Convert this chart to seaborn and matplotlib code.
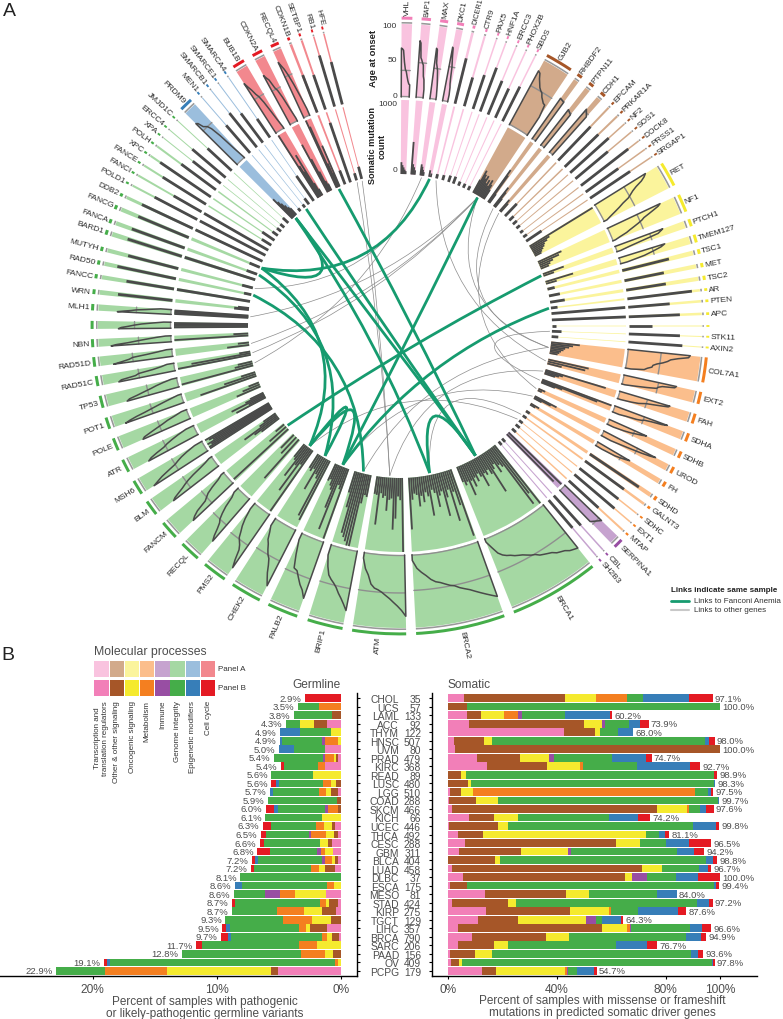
import numpy as np
import pandas as pd
import matplotlib
matplotlib.use("Agg")
import matplotlib.pyplot as plt
from matplotlib.patches import PathPatch, Rectangle
from matplotlib.path import Path
import seaborn as sns

# ---- panel B data ----
cancers = ['CHOL', 'UCS', 'LAML', 'ACC', 'THYM', 'HNSC', 'UVM', 'PRAD', 'KIRC', 'READ', 'LUSC', 'LGG', 'COAD', 'SKCM',
           'KICH', 'UCEC', 'THCA', 'CESC', 'GBM', 'BLCA', 'LUAD', 'DLBC', 'ESCA', 'MESO', 'STAD', 'KIRP', 'TGCT', 'LIHC',
           'BRCA', 'SARC', 'PAAD', 'OV', 'PCPG']
sample_n = [35, 57, 133, 92, 122, 507, 80, 479, 368, 89, 480, 510, 288, 466, 66, 446, 492, 288, 311, 404, 458, 37, 175,
            81, 424, 275, 129, 357, 790, 206, 156, 409, 179]
germline_total = [2.9, 3.5, 3.8, 4.3, 4.9, 4.9, 5.0, 5.4, 5.4, 5.6, 5.6, 5.7, 5.9, 6.0, 6.1, 6.3, 6.5, 6.6, 6.8, 7.2,
                  7.2, 8.1, 8.6, 8.6, 8.7, 8.7, 9.3, 9.5, 9.7, 11.7, 12.8, 19.1, 22.9]
somatic_total = [97.1, 100.0, 60.2, 73.9, 68.0, 98.0, 100.0, 74.7, 92.7, 98.9, 98.3, 97.5, 99.7, 97.6, 74.2, 99.8, 81.1,
                 96.5, 94.2, 98.8, 96.7, 100.0, 99.4, 84.0, 97.2, 87.6, 64.3, 96.6, 94.9, 76.7, 93.6, 97.8, 54.7]

germ_pink = [0, 0, 0, 1.1, 0, 0, 1.25, .2, 1.3, 0, 0, .2, 0, 0, 0, .45, .2, .7, .65, .25, .45, 0, 0, 1.2, .25, .4, 0, 1.1, .15, 0, 0, 0, 5.05]
germ_brown = [0, 0, .75, 1.1, 0, 0, 0, .2, 0, 0, .4, .6, .35, .2, 0, .25, .4, .35, 0, .25, .85, 0, 0, 0, .7, 1.1, .8, 1.4, .6, 0, .65, 0, .55]
germ_yellow = [0, 0, 0, 1.1, .8, .2, 0, .2, 0, 2.25, .4, .4, 0, 0, 1.5, .65, .6, .65, .6, .25, .45, 0, .55, 2.5, .25, 1.45, 1.55, .3, .4, 1.95, .65, .2, 8.4]
germ_orange = [0, 1.75, 0, 0, 0, 1.1, 0, .65, .55, 0, .65, .55, 0, .85, 0, .65, 1.2, 0, .35, .5, .65, 0, .55, 1.2, .5, 2.2, 2.3, .55, .35, 1.45, 1.9, .3, 5.0]
germ_purple = [0, 0, 0, 0, 0, .25, 0, .2, 0, 0, 0, 0, 0, .2, 0, 0, .2, 0, .3, .25, 0, 0, 0, 1.2, 0, 0, 0, 0, 0, 0, 0, 0, 0]
germ_green = [0, 1.75, 3.05, 1.1, 2.5, 3.2, 2.5, 3.95, 2.7, 3.35, 3.55, 3.75, 5.55, 3.85, 4.6, 3.6, 3.45, 4.5, 3.85, 5.2, 4.6, 8.1, 6.9, 2.5, 6.8, 3.6, 4.65, 5.6, 7.35, 7.8, 9.6, 18.1, 3.95]
germ_blue = [0, 0, 0, 0, 1.6, .15, 1.25, 0, 0, 0, .2, .2, 0, .3, 0, 0, 0, 0, 0, .25, 0, 0, .55, 0, 0, 0, 0, .3, .25, 0, 0, .25, 0]
germ_red = [2.9, 0, 0, 0, 0, 0, 0, 0, .3, 0, .4, 0, 0, .65, 0, .7, .4, .35, 1.0, .25, .25, 0, 0, 0, .25, 0, 0, .3, .6, .5, 0, .25, 0]

som_pink = [5.8, 0, 6.9, 7.7, 42.7, 2.2, 2.6, 10.6, 14.2, 0, 0, .5, .3, 1.2, 7.6, .4, 3.6, 6.3, 3.9, 0, 1.3, 5.4, .6, 13.6, 1.5, 13.9, 11, 3.7, 8.7, 3.4, .6, .9, 12.4]
som_brown = [37.2, 7, 5.2, 42.3, 11.4, 10.9, 97.4, 15.9, 22.2, 4.5, 7.1, 4.3, 9.9, 75.5, 9.2, 17.9, 9.3, 55.6, 22.8, 17.1, 69.9, 59.6, 6.3, 29.7, 20.5, 30.9, 14.6, 52.8, 27.4, 13.6, 9.1, 3.1, 5]
som_yellow = [11.4, 0, 8.3, 6.5, 1.7, 2.9, 0, 10.6, 12.1, 2.2, 1.1, 4.2, 8.1, 11.3, 9, 3.8, 59.9, 8.8, 17.3, 2, 7.5, 2.7, 0, 8.6, 2.9, 14.2, 24.9, 9.2, 8.2, 4.9, 6.4, 1.2, 25.6]
som_orange = [11.5, 0, 5.3, 0, 0, 0, 0, 0, .9, 0, 0, 81.7, 0, .6, 0, 0, 0, 0, 0, 0, 0, 0, 0, 0, 0, .7, 0, 1.2, 0, 0, 0, 0, .6]
som_purple = [0, 0, 1.6, 1.1, 0, 0, 0, 1.7, 0, 0, 0, 0, 0, 0, 0, 0, 0, 0, 1.1, 0, 0, 5.4, 0, 0, 0, 0, 3.8, .4, 0, 0, 0, 0, .5]
som_green = [5.9, 93, 15.7, 8.8, 6.6, 78.4, 0, 21.3, 20, 91, 89.6, 4.7, 80.9, 4, 33.5, 68.1, 4.7, 9.4, 38.9, 75.6, 13.4, 10.8, 91, 24.8, 66.7, 10.2, 2.3, 21.5, 43.2, 39.8, 73.3, 91.7, 3.4]
som_blue = [16.9, 0, 16.6, 4.2, 5.6, 1.7, 0, 12.5, 19.4, 0, .5, 1.2, .6, 2.3, 10.6, 8.5, 2.3, 8.6, 6.3, 2.8, 3.3, 8.1, .5, 7.4, 4.2, 14.8, 7, 4.7, 5.5, 11.3, 2.5, .5, 6]
som_red = [8.6, 0, .7, 3.2, 0, 1.9, 0, 2.2, 3.9, 1.2, 0, 1, 0, 2.8, 4.4, 1.1, 1.5, 8, 3.9, 1.5, 1.3, 8.1, 1.2, 0, 1.5, 2.8, .7, 3.3, 2, 3.8, 1.9, .7, 1.2]

process_names = ['Transcription and\ntranslation regulators', 'Other & other signaling', 'Oncogenic signaling',
                 'Metabolism', 'Immune', 'Genome integrity', 'Epigenetic modifiers', 'Cell cycle']
strong_colors = ['#F27FB8', '#A65628', '#F5EA2E', '#F47F20', '#984EA3', '#45AD49', '#377EB8', '#E41A23']
pale_colors = ['#F9C3DF', '#D2AA8B', '#FBF49C', '#FBBE8C', '#C6A3CF', '#A5D8A3', '#9BBEDD', '#F2888E']

# ---- panel A data, clockwise from the top, angles in degrees ----
gene_names = ['VHL', 'BAP1', 'MAX', 'DKC1', 'DICER1', 'CTR9', 'PAX5', 'HNF1A', 'ERCC3', 'PHOX2B', 'SBDS',
              'GJB2', 'RHBDF2', 'PTPN11', 'CDH1', 'EPCAM', 'PRKAR1A', 'NF2', 'SOS1', 'DOCK8', 'PRSS1', 'SRGAP1',
              'RET', 'NF1', 'PTCH1', 'TMEM127', 'TSC1', 'MET', 'TSC2', 'AR', 'PTEN', 'APC', '', 'STK11', 'AXIN2',
              'COL7A1', 'EXT2', 'FAH', 'SDHA', 'SDHB', 'UROD', 'FH', 'SDHD', 'GALNT3', 'SDHC', 'EXT1', 'MTAP',
              'SERPINA1', 'CBL', 'SH2B3',
              'BRCA1', 'BRCA2', 'ATM', 'BRIP1', 'PALB2', 'CHEK2', 'PMS2', 'RECQL', 'FANCM', 'BLM', 'MSH6', 'ATR',
              'POLE', 'POT1', 'TP53', 'RAD51C', 'RAD51D', 'NBN', ' ', 'MLH1', 'WRN', 'FANCC', 'RAD50', 'MUTYH',
              'BARD1', 'FANCA', 'FANCG', 'DDB2', 'POLD1', 'FANCI', 'FANCE', 'XPC', 'POLH', 'XPA', 'ERCC4', 'JMJD1C',
              'PRDM9', 'MEN1', 'SMARCB1', 'SMARCE1', 'SMARCA4',
              'BUB1B', 'CDKN2A', 'RECQL4', 'CDKN1B', 'SETBP1', 'RB1', 'HFE']
gene_process = [0] * 11 + [1] * 11 + [2] * 13 + [3] * 12 + [4] * 3 + [5] * 36 + [6] * 5 + [7] * 7
gene_mid = [1.3, 4.9, 8.25, 11.35, 13.9, 16.3, 18.6, 20.5, 22.6, 24.6, 26.6,
            31.1, 35.7, 38.4, 41.2, 43.7, 46, 48, 50, 52.2, 54.2, 56.1,
            60.5, 66.5, 70.4, 73.5, 76, 78.6, 81, 83.2, 85.3, 87.7, 90, 92, 94,
            98.2, 103.5, 107.5, 111.2, 114.7, 117.9, 120.9, 124, 126.1, 128.4, 130.4, 132.5,
            134.9, 137.8, 139.5,
            149.8, 168.6, 183.9, 194.1, 202.4, 210, 217, 223, 228.5, 233.8, 238.4, 243,
            247.4, 251.6, 255.75, 259.7, 263.3, 266.8, 270.2, 273.5, 276.4, 279.3, 281.9, 284.5,
            287.7, 289.9, 292.7, 295.2, 297.7, 299.9, 302.1, 304.3, 306.5, 308.5, 310.4, 312.7,
            316, 319.1, 321.3, 323.2, 325.4,
            328.4, 332.4, 336, 338.8, 341, 343.4, 345.4]
gene_width = [2.0, 1.75, 1.5, 1.3, .5, .4, .3, .3, .3, .3, .3,
              5.2, 1.0, 1.0, 1.0, .4, .4, .3, .3, .3, .3, .3,
              4.7, 3.4, 1.4, 1.5, .9, .8, .8, .5, .5, .5, .2, .2, .2,
              4.7, 2.3, 1.9, 1.6, 1.3, 1.3, 1.0, .8, .5, .3, .3, .4,
              1.8, .3, .3,
              17, 16.8, 10.1, 6.7, 5.8, 5.8, 4.6, 3.9, 3.5, 2.9, 2.8, 2.5,
              2.4, 2.2, 2.3, 1.9, 1.8, 1.5, 1.5, 1.2, .9, .8, .8, .8,
              .9, .8, .8, .6, .4, .4, .4, .4, .4, .2, .2, .2,
              2.5, .2, .2, .2, .2,
              2.3, 2.0, 1.6, .5, .4, .3, .3]
label_small = {'BAP1': 5.0, 'DICER1': 5.2, 'CTR9': 5.6, 'DKC1': 5.6}

# onset ages of each gene's carriers, oldest first
gene_ages = [
    [67, 66, 64, 48, 38, 35, 28, 22, 18, 17], [78, 75, 55, 52, 48, 45, 30, 25, 12], [70, 68, 50, 45, 40, 30, 20, 5],
    [75, 72, 62, 55, 48, 35, 25, 20, 10], [64], [41], [49], [64], [50], [44], [53],
    [84, 82, 75, 70, 65, 62, 60, 55, 52, 49, 48, 30], [68, 66], [62, 58], [78, 70], [64], [64], [71], [58], [82], [55], [66],
    [82, 78, 72, 62, 55, 50, 45, 35, 28, 20, 12, 5], [80, 76, 68, 60, 52, 48, 42, 35, 28, 22, 12, 4],
    [70, 66, 62, 40, 20, 6], [66, 60, 48, 35, 10], [66, 60, 45, 15], [55, 45, 20], [55, 40, 15], [89, 80], [57, 50],
    [70, 55], [31], [70], [74],
    [86, 84, 70, 60, 56, 50, 42, 37, 36, 30, 26, 8], [74, 72, 55, 50, 48, 35, 20, 5], [72, 70, 60, 50, 40, 35, 30, 20, 5],
    [77, 70, 55, 45, 42, 35, 20, 10], [56, 50, 42, 35, 25, 10], [80, 72, 60, 45, 30, 15], [51, 45, 38, 30, 10],
    [81, 78], [66], [68], [72], [55],
    [70, 60], [55], [50],
    [76, 74, 72, 68, 66, 64, 60, 58, 56, 54, 50, 48, 45, 42, 40, 38, 35, 33, 30, 25, 15, 5],
    [80, 76, 72, 68, 64, 60, 57, 54, 50, 48, 45, 42, 40, 36, 30, 25, 19, 8],
    [84, 76, 70, 65, 60, 56, 52, 49, 47, 42, 30, 22, 8], [83, 75, 68, 62, 55, 50, 46, 41, 30, 15],
    [82, 72, 66, 58, 50, 48, 30, 10], [86, 78, 70, 60, 52, 48, 42, 35, 30, 20, 12], [89, 78, 64, 58, 54, 50, 42, 35, 25, 10],
    [77, 70, 60, 52, 48, 40, 30, 15, 8], [75, 70, 62, 45, 40, 35, 25, 12, 5], [78, 74, 66, 58, 52, 45, 35, 22, 12, 5],
    [88, 80, 72, 60, 48, 42, 35, 25, 12], [77, 72, 62, 50, 44, 35, 25, 12],
    [71, 68, 58, 48, 38, 30, 18, 8], [85, 78, 68, 55, 45, 35, 25, 15, 5], [74, 70, 58, 48, 38, 30, 20, 8],
    [79, 75, 55, 50, 30, 18, 10], [82, 70, 60, 55, 35, 20, 8], [83, 75, 60, 50, 40, 30, 20, 8], [72, 68, 58, 50, 40, 25, 10],
    [74, 65, 55, 48, 35, 25, 15], [75, 60, 50, 35, 20], [66, 55, 50, 35, 20], [82, 72, 60, 40, 15], [71, 62, 50, 35, 15],
    [78, 70, 50, 30, 12], [77, 68, 52, 35, 15], [75, 65, 50, 30, 10], [77, 60, 30], [66, 60], [44, 40], [70, 65], [84, 80],
    [59, 55], [49], [60], [45],
    [80, 78, 70, 68, 66, 60, 45, 20, 2], [50], [60], [50], [31],
    [81, 74, 68, 60, 55, 45, 30, 15, 3], [77, 72, 68, 55, 50, 38, 20, 5], [84, 78, 72, 62, 48, 30, 10], [55, 50], [50], [73], [60],
]

# somatic mutation counts of the same carriers
gene_counts = [
    [160, 120, 90, 60, 40], [440, 140, 100, 60], [150, 120, 80, 50], [90, 50], [60], [70], [90], [100], [60], [60], [60],
    [200, 350, 300, 250, 300, 200, 260, 180, 280, 220, 150], [530, 450, 150], [320, 250, 150], [200, 150], [230], [80], [70], [60], [50], [60], [250],
    [1000, 300, 250, 200, 180, 150, 120, 100], [350, 300, 200, 150, 120], [300, 150], [390, 150], [100], [150], [200], [90], [1000], [1000], [60], [130], [90],
    [390, 300, 250, 200, 180, 150, 130, 110], [560, 520, 200], [850, 250, 200, 150], [1000, 800, 300, 200], [100, 60], [330, 250, 120], [130, 80],
    [60], [60], [60], [70], [70],
    [1000, 900], [60], [60],
    [1000, 800, 950, 300, 250, 350, 200, 260, 600, 300, 220, 280, 240, 420, 260, 200, 300, 230, 350, 250, 450, 240, 280, 220],
    [950, 500, 300, 700, 250, 350, 600, 250, 300, 450, 250, 200, 550, 280, 220, 350, 260, 400, 240, 220, 300, 700],
    [1000, 300, 250, 550, 700, 280, 300, 450, 250, 280, 220, 650, 250, 240], [300, 280, 400, 1000, 1000, 950, 900, 850, 500, 300],
    [1000, 300, 250, 900, 600, 350, 300, 220, 250], [900, 850, 300, 250, 500, 200, 250, 220], [1000, 250, 700, 300, 500, 250, 220],
    [700, 300, 250], [1000, 300, 150], [300, 400, 550, 280, 200], [1000, 1000, 950, 1000, 900, 950, 1000], [450, 250, 500, 280, 200],
    [350, 250, 150], [800, 450, 200], [1000, 250, 200], [1000, 810, 150], [300, 150], [1000, 200], [1000, 1000, 1000, 1000], [1000, 1000, 1000, 1000],
    [200, 150], [1000], [100], [150], [1000], [150], [150], [1000], [1000], [1000], [150], [200], [90], [70], [70], [100],
    [370, 300, 250, 200, 150, 120], [50], [50], [100], [410],
    [1000, 500, 400, 650, 200, 100], [730, 500, 300, 150, 100], [1000, 900, 350, 200, 600], [200], [850], [100], [170],
]

fanconi_links = [('DKC1', 'FANCG'), ('GJB2', 'PALB2'), ('RECQL4', 'BRCA1'), ('SMARCB1', 'BRCA1'), ('PRDM9', 'BRCA1'),
                 ('PRDM9', 'BRCA2'), ('PRDM9', 'FANCG'), ('PTCH1', 'FANCM'), ('AR', 'PALB2'), ('FANCA', 'CHEK2'),
                 ('RAD50', 'BRIP1'), ('FANCG', 'PMS2'), ('PMS2', 'PALB2'), ('PMS2', 'CHEK2'), ('BRCA2', 'BRCA1')]
other_links = [('GJB2', 'MLH1'), ('GJB2', 'RAD51D'), ('GJB2', 'RAD51C'), ('MAX', 'TP53'), ('HFE', 'ATM'), ('RB1', 'ATM'),
               ('MUTYH', 'DKC1'), ('CDH1', 'SDHB'), ('PTPN11', 'COL7A1'), ('GJB2', 'COL7A1'), ('DICER1', 'EXT2'),
               ('PMS2', 'SDHC'), ('BRIP1', 'COL7A1'), ('ATM', 'FAH'), ('STK11', 'SDHA'), ('PALB2', 'UROD'),
               ('BRCA2', 'GALNT3')]

# ---- style ----
sns.set_theme(style='white')
plt.rcParams['font.family'] = ['Liberation Sans', 'DejaVu Sans']
TEXT = '#4d4d4d'
DARK = '#4a4a4a'
W, H = 783, 1020
COUNT_R = (152, 226)
AGE_R = (229, 302)


def add_axes_px(x0, y0, x1, y1, **kw):
    return fig.add_axes([x0 / W, 1 - y1 / H, (x1 - x0) / W, (y1 - y0) / H], **kw)


def draw_sector(ax, i):
    mid, width = np.radians(gene_mid[i]), np.radians(gene_width[i])
    narrow = gene_width[i] < 1
    pale, strong = pale_colors[gene_process[i]], strong_colors[gene_process[i]]
    for lo, hi in (COUNT_R, AGE_R):
        ax.bar(mid, hi - lo, width=width, bottom=lo, color=pale, linewidth=0, zorder=1)
    ax.bar(mid, 1.6, width=max(width, np.radians(.3)), bottom=302.4, color='#999999', linewidth=0, zorder=2)
    ax.bar(mid, 3.0, width=max(width, np.radians(.35)), bottom=306.4, color=strong, linewidth=0, zorder=2)

    # counts as spikes from the inner edge
    counts = np.minimum(gene_counts[i], 1000)
    thetas = mid - width / 2 + width * (np.arange(len(counts)) + .5) / len(counts)
    ax.vlines(thetas, COUNT_R[0], COUNT_R[0] + (COUNT_R[1] - COUNT_R[0]) * counts / 1000, color=DARK,
              linewidth=2.0 if narrow else 1.3, zorder=4)

    ages = np.array(gene_ages[i], dtype=float)
    radii = AGE_R[0] + (AGE_R[1] - AGE_R[0]) * ages / 100
    if narrow:
        ax.vlines(mid, AGE_R[0], radii[0], color=DARK, linewidth=2.0, zorder=4)
        return
    # sorted ages as an outline over a grey base arc
    arc = np.linspace(mid - width / 2, mid + width / 2, 24)
    ax.plot(arc, np.full(24, AGE_R[0] + .5), color='#8f8f8f', linewidth=1.0, zorder=3)
    ax.plot(arc, np.full(24, AGE_R[0] + (AGE_R[1] - AGE_R[0]) * np.median(ages) / 100), color='#8f8f8f',
            linewidth=1.0, zorder=3)
    thetas = np.linspace(mid - width / 2, mid + width / 2, len(ages))
    line_t = np.r_[mid - width / 2, thetas, mid + width / 2]
    line_r = np.r_[AGE_R[0], radii, AGE_R[0]]
    ax.plot(line_t, line_r, color=DARK, linewidth=1.1, solid_joinstyle='round', zorder=4)


def draw_gene_label(ax, i):
    deg = gene_mid[i]
    if deg < 180:
        rot, ha = 90 - deg, 'left'
    else:
        rot, ha = 270 - deg, 'right'
    name = gene_names[i].strip()
    ax.text(np.radians(deg), 311, name, rotation=rot, rotation_mode='anchor', ha=ha, va='center',
            fontsize=label_small.get(name, 6.0), color='#2b2b2b')


def draw_link(ax, a, b, color, lw, zorder):
    ta, tb = gene_mid[gene_names.index(a)], gene_mid[gene_names.index(b)]
    diff = (tb - ta + 180) % 360 - 180
    control = np.radians(ta + diff / 2)
    # near-diameter links stay almost straight, close pairs bend further out
    reach = 10 + 35 * min(1, (180 - abs(diff)) / 80)
    path = Path([(np.radians(ta), 150), (control, reach), (np.radians(tb), 150)],
                [Path.MOVETO, Path.CURVE3, Path.CURVE3])
    ax.add_patch(PathPatch(path, facecolor='none', edgecolor=color, linewidth=lw, transform=ax.transData, zorder=zorder))


def draw_stack(ax, columns):
    table = pd.DataFrame({'cancer': cancers})
    running = np.zeros(len(cancers))
    layers = []
    for col, color in zip(columns, strong_colors):
        running = running + np.array(col)
        layers.append((running.copy(), color))
    # longest cumulative first, shorter ones painted over it
    for values, color in reversed(layers):
        table['value'] = values
        sns.barplot(data=table, x='value', y='cancer', orient='h', color=color, saturation=1, width=.9,
                    linewidth=0, order=cancers, ax=ax)
    ax.set_xlabel('')
    ax.set_ylabel('')
    ax.set_ylim(32.6, -.6)
    ax.tick_params(axis='both', length=2.2, width=.8, color='black', bottom=True, labelcolor=TEXT)
    ax.tick_params(axis='x', pad=2.5)
    ax.patch.set_alpha(0)
    return running


fig = plt.figure(figsize=(W / 100, H / 100), dpi=100, facecolor='white')

# ---- panel A: circular tracks on a polar axes ----
polar = add_axes_px(73, 0, 727, 654, projection='polar')
polar.set_theta_zero_location('N')
polar.set_theta_direction(-1)
for i in range(len(gene_names)):
    draw_sector(polar, i)
    draw_gene_label(polar, i)
for a, b in other_links:
    draw_link(polar, a, b, '#8c8c8c', .5, 5)
for a, b in fanconi_links:
    draw_link(polar, a, b, '#169B6F', 2.0, 6)
polar.set_ylim(0, 327)
polar.axis('off')

# ---- panel B: stacked bars ----
germ_ax = add_axes_px(0, 694, 357, 977)
germ_sum = draw_stack(germ_ax, [germ_pink, germ_brown, germ_yellow, germ_orange, germ_purple, germ_green, germ_blue, germ_red])
germ_ax.set_xlim(27.46, -1.29)
germ_ax.set_xticks([0, 10, 20], ['0%', '10%', '20%'], fontsize=8.6)
germ_ax.yaxis.tick_right()
germ_ax.tick_params(axis='y', right=True, left=False, pad=28)
germ_ax.set_yticks(range(len(cancers)), cancers, fontsize=7.4, ha='right')
germ_ax.spines[['left', 'top']].set_visible(False)
germ_ax.spines[['right', 'bottom']].set_linewidth(1)
germ_ax.spines[['right', 'bottom']].set_color('black')
for row, total in enumerate(germline_total):
    germ_ax.annotate(f'{total:.1f}%', (germ_sum[row], row), xytext=(-2.5, 0), textcoords='offset points',
                     ha='right', va='center', fontsize=6.8, color=TEXT)

som_ax = add_axes_px(431.7, 694, 756.7, 977)
som_sum = draw_stack(som_ax, [som_pink, som_brown, som_yellow, som_orange, som_purple, som_green, som_blue, som_red])
som_ax.set_xlim(-6.1, 113.5)
som_ax.set_xticks([0, 40, 80, 100], ['0%', '40%', '80%', '100%'], fontsize=8.6)
som_ax.set_yticks(range(len(cancers)), sample_n, fontsize=7.4)
som_ax.tick_params(axis='y', left=True, pad=5.5)
som_ax.spines[['right', 'top']].set_visible(False)
som_ax.spines[['left', 'bottom']].set_linewidth(1)
som_ax.spines[['left', 'bottom']].set_color('black')
for row, total in enumerate(somatic_total):
    som_ax.annotate(f'{total:.1f}%', (som_sum[row], row), xytext=(1.5, 0), textcoords='offset points',
                    ha='left', va='center', fontsize=6.8, color=TEXT)

# ---- loose text and legends, positioned in pixels ----
over = add_axes_px(0, 0, W, H)
over.set_xlim(0, W)
over.set_ylim(H, 0)
over.axis('off')
over.text(3, 11, 'A', fontsize=14, va='center', color='#222222')
over.text(1, 656, 'B', fontsize=14, va='center', color='#222222')

over.text(374, 58, 'Age at onset', rotation=90, ha='center', va='center', fontsize=6.8, fontweight='bold', color='#222222')
over.text(377, 146, 'Somatic mutation\ncount', rotation=90, ha='center', va='center', fontsize=6.6, fontweight='bold',
          color='#222222', linespacing=1.05)
for label, y in (('100', 26), ('50', 61), ('0', 96), ('1000', 105), ('0', 171)):
    over.text(397, y, label, ha='right', va='center', fontsize=6, color='#333333')

over.text(671, 591, 'Links indicate same sample', fontsize=5.8, fontweight='bold', va='center', color='#222222')
over.plot([671, 689], [602, 602], color='#169B6F', linewidth=2)
over.plot([671, 689], [611, 611], color='#c8c8c8', linewidth=1.5)
over.text(694, 602, 'Links to Fanconi Anemia', fontsize=5.8, va='center', color='#333333')
over.text(694, 611, 'Links to other genes', fontsize=5.8, va='center', color='#333333')

over.text(94, 652, 'Molecular processes', fontsize=8.8, va='center', color=TEXT)
for k, name in enumerate(process_names):
    x = 94.3 + 15.2 * k
    over.add_patch(Rectangle((x, 662), 14.5, 15.5, color=pale_colors[k], linewidth=0))
    over.add_patch(Rectangle((x, 681), 14.5, 15.5, color=strong_colors[k], linewidth=0))
    over.text(x + 7.3, 701, name, rotation=90, ha='center', va='top', fontsize=5.8, color='#333333', linespacing=1.1)
over.text(218.5, 670, 'Panel A', fontsize=5.8, va='center', color='#333333')
over.text(218.5, 689, 'Panel B', fontsize=5.8, va='center', color='#333333')

over.text(341, 685, 'Germline', ha='right', va='center', fontsize=8.6, color=TEXT)
over.text(448, 685, 'Somatic', ha='left', va='center', fontsize=8.6, color=TEXT)
over.text(205, 1008, 'Percent of samples with pathogenic\nor likely-pathogentic germline variants', ha='center',
          va='center', fontsize=8.5, color=TEXT, linespacing=1.1)
over.text(602, 1007, 'Percent of samples with missense or frameshift\nmutations in predicted somatic driver genes',
          ha='center', va='center', fontsize=8.5, color=TEXT, linespacing=1.1)

fig.savefig('out.png', dpi=100)
plt.close(fig)
